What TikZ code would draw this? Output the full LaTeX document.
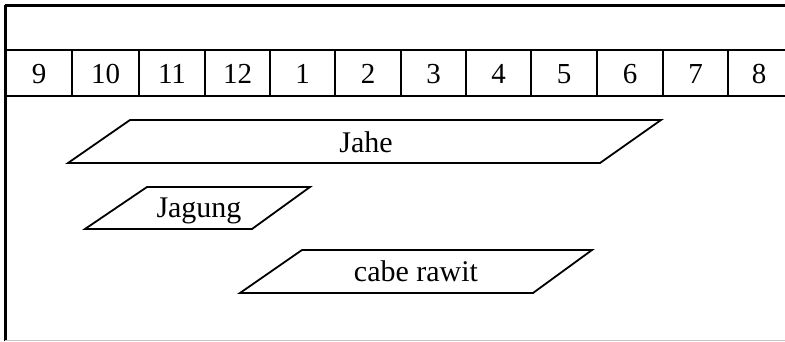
\documentclass[tikz,border=0pt]{standalone}
\usepackage{fontspec}
\setmainfont{Liberation Serif}
\begin{document}
\begin{tikzpicture}[x=1pt,y=-1pt,
    month/.style={font=\fontsize{29}{32}\selectfont},
    crop/.style={font=\fontsize{30}{34}\selectfont,anchor=base},
    frame/.style={line width=3pt},
    rule/.style={line width=1.8pt},
    band/.style={draw,line width=1.8pt,line join=miter}]
      \useasboundingbox (0,0) rectangle (785,342);
      \fill[white] (0,0) rectangle (785,342);
      \draw[frame] (5,6) -- (785,6);
      \draw[frame] (5,5) -- (5,341);
      \draw[gray!45,line width=1pt] (5,340.5) -- (785,340.5);
      \draw[rule] (5,50) -- (785,50);
      \draw[rule] (5,96) -- (785,96);
      \draw
        (39,74) node[month] (h9){9}
        (105.5,74) node[month] (h10){10}
        (172,74) node[month] (h11){11}
        (237.5,74) node[month] (h12){12}
        (302.5,74) node[month] (h1){1}
        (368,74) node[month] (h2){2}
        (433.5,74) node[month] (h3){3}
        (498.5,74) node[month] (h4){4}
        (564,74) node[month] (h5){5}
        (630,74) node[month] (h6){6}
        (695.5,74) node[month] (h7){7}
        (759,74) node[month] (h8){8};
      \begin{scope}[rule]
        \draw (72,50) -- (72,96);
        \draw (139,50) -- (139,96);
        \draw (205,50) -- (205,96);
        \draw (270,50) -- (270,96);
        \draw (335,50) -- (335,96);
        \draw (401,50) -- (401,96);
        \draw (466,50) -- (466,96);
        \draw (531,50) -- (531,96);
        \draw (597,50) -- (597,96);
        \draw (663,50) -- (663,96);
        \draw (728,50) -- (728,96);
      \end{scope}
      \draw[band] (130,120) -- (661,120) -- (600,163) -- (68,163) -- cycle;
      \draw[band] (147,187) -- (310,187) -- (252,229) -- (85,229) -- cycle;
      \draw[band] (302,250) -- (592,250) -- (533,293) -- (240,293) -- cycle;
      \node[crop] (jahe) at (366,153) {Jahe};
      \node[crop] (jagung) at (199,218) {Jagung};
      \node[crop] (cabe) at (416,281) {cabe rawit};
    \end{tikzpicture}
\end{document}
